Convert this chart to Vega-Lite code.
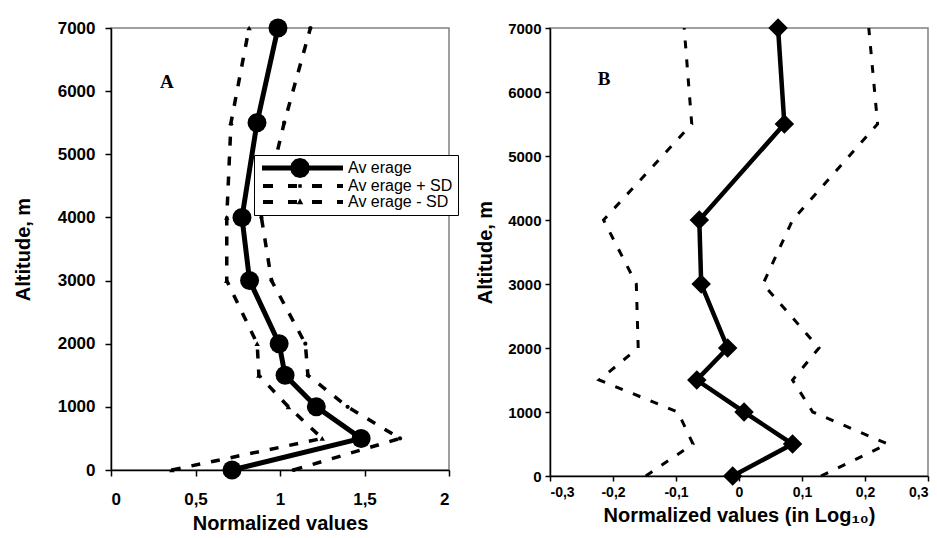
{
  "$schema": "https://vega.github.io/schema/vega-lite/v6.json",
  "background": "white",
  "padding": {"left": 12, "top": 17, "right": 5, "bottom": 5},
  "spacing": 23,
  "datasets": {
    "a": [
      {"series": "Av erage", "alt": 0, "value": 0.716},
      {"series": "Av erage", "alt": 500, "value": 1.48},
      {"series": "Av erage", "alt": 1000, "value": 1.215},
      {"series": "Av erage", "alt": 1500, "value": 1.03},
      {"series": "Av erage", "alt": 2000, "value": 0.995},
      {"series": "Av erage", "alt": 3000, "value": 0.82},
      {"series": "Av erage", "alt": 4000, "value": 0.775},
      {"series": "Av erage", "alt": 5500, "value": 0.864},
      {"series": "Av erage", "alt": 7000, "value": 0.988},
      {"series": "Av erage + SD", "alt": 0, "value": 1.08},
      {"series": "Av erage + SD", "alt": 500, "value": 1.71},
      {"series": "Av erage + SD", "alt": 1000, "value": 1.4},
      {"series": "Av erage + SD", "alt": 1500, "value": 1.165},
      {"series": "Av erage + SD", "alt": 2000, "value": 1.15},
      {"series": "Av erage + SD", "alt": 3000, "value": 0.95},
      {"series": "Av erage + SD", "alt": 4000, "value": 0.89},
      {"series": "Av erage + SD", "alt": 5500, "value": 1.025},
      {"series": "Av erage + SD", "alt": 7000, "value": 1.18},
      {"series": "Av erage - SD", "alt": 0, "value": 0.36},
      {"series": "Av erage - SD", "alt": 500, "value": 1.25},
      {"series": "Av erage - SD", "alt": 1000, "value": 1.05},
      {"series": "Av erage - SD", "alt": 1500, "value": 0.875},
      {"series": "Av erage - SD", "alt": 2000, "value": 0.865},
      {"series": "Av erage - SD", "alt": 3000, "value": 0.685},
      {"series": "Av erage - SD", "alt": 4000, "value": 0.685},
      {"series": "Av erage - SD", "alt": 5500, "value": 0.71},
      {"series": "Av erage - SD", "alt": 7000, "value": 0.817}
    ],
    "b": [
      {"series": "Av erage", "alt": 0, "value": -0.01},
      {"series": "Av erage", "alt": 500, "value": 0.085},
      {"series": "Av erage", "alt": 1000, "value": 0.008},
      {"series": "Av erage", "alt": 1500, "value": -0.067},
      {"series": "Av erage", "alt": 2000, "value": -0.018},
      {"series": "Av erage", "alt": 3000, "value": -0.06},
      {"series": "Av erage", "alt": 4000, "value": -0.063},
      {"series": "Av erage", "alt": 5500, "value": 0.072},
      {"series": "Av erage", "alt": 7000, "value": 0.062},
      {"series": "Av erage + SD", "alt": 0, "value": 0.13},
      {"series": "Av erage + SD", "alt": 500, "value": 0.236},
      {"series": "Av erage + SD", "alt": 1000, "value": 0.117},
      {"series": "Av erage + SD", "alt": 1500, "value": 0.085},
      {"series": "Av erage + SD", "alt": 2000, "value": 0.127},
      {"series": "Av erage + SD", "alt": 3000, "value": 0.038},
      {"series": "Av erage + SD", "alt": 4000, "value": 0.085},
      {"series": "Av erage + SD", "alt": 5500, "value": 0.22},
      {"series": "Av erage + SD", "alt": 7000, "value": 0.206},
      {"series": "Av erage - SD", "alt": 0, "value": -0.148},
      {"series": "Av erage - SD", "alt": 500, "value": -0.073},
      {"series": "Av erage - SD", "alt": 1000, "value": -0.097},
      {"series": "Av erage - SD", "alt": 1500, "value": -0.222},
      {"series": "Av erage - SD", "alt": 2000, "value": -0.16},
      {"series": "Av erage - SD", "alt": 3000, "value": -0.163},
      {"series": "Av erage - SD", "alt": 4000, "value": -0.215},
      {"series": "Av erage - SD", "alt": 5500, "value": -0.075},
      {"series": "Av erage - SD", "alt": 7000, "value": -0.087}
    ],
    "tagA": [{"label": "A", "value": 0.33, "alt": 6150}],
    "tagB": [{"label": "B", "value": -0.214, "alt": 6200}]
  },
  "hconcat": [
    {
      "width": 338,
      "height": 442,
      "encoding": {
        "x": {
          "field": "value", "type": "quantitative",
          "scale": {"domain": [0, 2], "nice": false, "zero": false},
          "axis": {
            "title": "Normalized values",
            "values": [0, 0.5, 1, 1.5, 2],
            "labelExpr": "replace(format(datum.value, '.1~f'), '.', ',')",
            "labelFontSize": 17, "titleFontSize": 20,
            "tickSize": 6, "labelPadding": 15, "titlePadding": 6
          }
        },
        "y": {
          "field": "alt", "type": "quantitative",
          "scale": {"domain": [0, 7000], "nice": false},
          "axis": {
            "title": "Altitude, m",
            "values": [0, 1000, 2000, 3000, 4000, 5000, 6000, 7000],
            "format": "d",
            "labelFontSize": 17, "titleFontSize": 20,
            "tickSize": 6, "labelPadding": 10, "titlePadding": 24
          }
        }
      },
      "layer": [
        {
          "data": {"name": "a"},
          "transform": [{"filter": "datum.series !== 'Av erage'"}],
          "mark": {"type": "line", "color": "black", "strokeWidth": 3.5, "strokeDash": [9, 11]},
          "encoding": {"detail": {"field": "series"}, "order": {"field": "alt"}}
        },
        {
          "data": {"name": "a"},
          "transform": [{"filter": "datum.series === 'Av erage'"}],
          "mark": {"type": "line", "color": "black", "strokeWidth": 5},
          "encoding": {"order": {"field": "alt"}}
        },
        {
          "data": {"name": "a"},
          "transform": [{"filter": "datum.series === 'Av erage + SD'"}],
          "mark": {"type": "point", "filled": true, "color": "black", "opacity": 1, "shape": "circle", "size": 18}
        },
        {
          "data": {"name": "a"},
          "transform": [{"filter": "datum.series === 'Av erage - SD'"}],
          "mark": {"type": "point", "filled": true, "color": "black", "opacity": 1, "shape": "triangle-up", "size": 30}
        },
        {
          "data": {"name": "a"},
          "transform": [{"filter": "datum.series === 'Av erage'"}],
          "mark": {"type": "point", "filled": true, "color": "black", "opacity": 1, "shape": "circle", "size": 360}
        },
        {
          "data": {"name": "a"},
          "transform": [{"filter": "false"}],
          "mark": {"type": "point", "filled": true, "fill": "black", "strokeWidth": 0, "opacity": 1},
          "encoding": {
            "shape": {
              "field": "series", "type": "nominal",
              "scale": {
                "domain": ["Av erage", "Av erage + SD", "Av erage - SD"],
                "range": [
                  "M-1,-0.5H15.2V0.5H-1ZM8.6,0L8.33,1L7.6,1.73L6.6,2L5.6,1.73L4.87,1L4.6,0L4.87,-1L5.6,-1.73L6.6,-2L7.6,-1.73L8.33,-1Z",
                  "M-0.8,-0.4H1.2V0.4H-0.8ZM4.2,-0.4H6V0.4H4.2ZM9,-0.4H11V0.4H9ZM14,-0.4H15.2V0.4H14ZM6.25,-0.35H6.95V0.35H6.25Z",
                  "M-0.8,-0.4H1.2V0.4H-0.8ZM4.2,-0.4H6V0.4H4.2ZM9,-0.4H11V0.4H9ZM14,-0.4H15.2V0.4H14ZM6.6,-0.75L7.25,0.45L5.95,0.45Z"
                ]
              },
              "legend": {
                "title": null,
                "orient": "none", "legendX": 143, "legendY": 127,
                "strokeColor": "black", "fillColor": "white", "padding": 5,
                "symbolSize": 100, "symbolStrokeWidth": 0, "symbolFillColor": "black", "symbolOpacity": 1,
                "labelFontSize": 16, "labelFont": "Liberation Sans",
                "labelColor": "black", "labelOffset": 73, "rowPadding": -4
              }
            }
          }
        },
        {
          "data": {"name": "tagA"},
          "mark": {"type": "text", "font": "Liberation Serif", "fontWeight": "bold", "fontSize": 19, "color": "black"},
          "encoding": {"text": {"field": "label"}}
        }
      ]
    },
    {
      "width": 378,
      "height": 448,
      "encoding": {
        "x": {
          "field": "value", "type": "quantitative",
          "scale": {"domain": [-0.3, 0.3], "nice": false, "zero": false},
          "axis": {
            "title": "Normalized values (in Log₁₀)",
            "values": [-0.3, -0.2, -0.1, 0, 0.1, 0.2, 0.3],
            "labelExpr": "replace(replace(format(datum.value, '.1~f'), '.', ','), '−', '-')",
            "labelFontSize": 14, "titleFontSize": 20,
            "tickSize": 5, "labelPadding": 4, "titlePadding": 6
          }
        },
        "y": {
          "field": "alt", "type": "quantitative",
          "scale": {"domain": [0, 7000], "nice": false},
          "axis": {
            "title": "Altitude, m",
            "values": [0, 1000, 2000, 3000, 4000, 5000, 6000, 7000],
            "format": "d",
            "labelFontSize": 15, "titleFontSize": 20,
            "tickSize": 5, "labelPadding": 4, "titlePadding": 12
          }
        }
      },
      "layer": [
        {
          "data": {"name": "b"},
          "transform": [{"filter": "datum.series !== 'Av erage'"}],
          "mark": {"type": "line", "color": "black", "strokeWidth": 3, "strokeDash": [8, 11]},
          "encoding": {"detail": {"field": "series"}, "order": {"field": "alt"}}
        },
        {
          "data": {"name": "b"},
          "transform": [{"filter": "datum.series === 'Av erage'"}],
          "mark": {"type": "line", "color": "black", "strokeWidth": 4.5},
          "encoding": {"order": {"field": "alt"}}
        },
        {
          "data": {"name": "b"},
          "transform": [{"filter": "datum.series === 'Av erage'"}],
          "mark": {"type": "point", "filled": true, "color": "black", "opacity": 1, "shape": "diamond", "size": 380}
        },
        {
          "data": {"name": "tagB"},
          "mark": {"type": "text", "font": "Liberation Serif", "fontWeight": "bold", "fontSize": 19, "color": "black"},
          "encoding": {"text": {"field": "label"}}
        }
      ]
    }
  ],
  "config": {
    "font": "Liberation Sans",
    "view": {"stroke": "#808080", "strokeWidth": 1.5},
    "axis": {
      "grid": false,
      "domainColor": "black", "domainWidth": 1.5,
      "tickColor": "black", "tickWidth": 1.5,
      "labelColor": "black", "titleColor": "black",
      "labelFont": "Liberation Sans", "titleFont": "Liberation Sans",
      "labelFontWeight": "bold", "titleFontWeight": "bold"
    }
  }
}
